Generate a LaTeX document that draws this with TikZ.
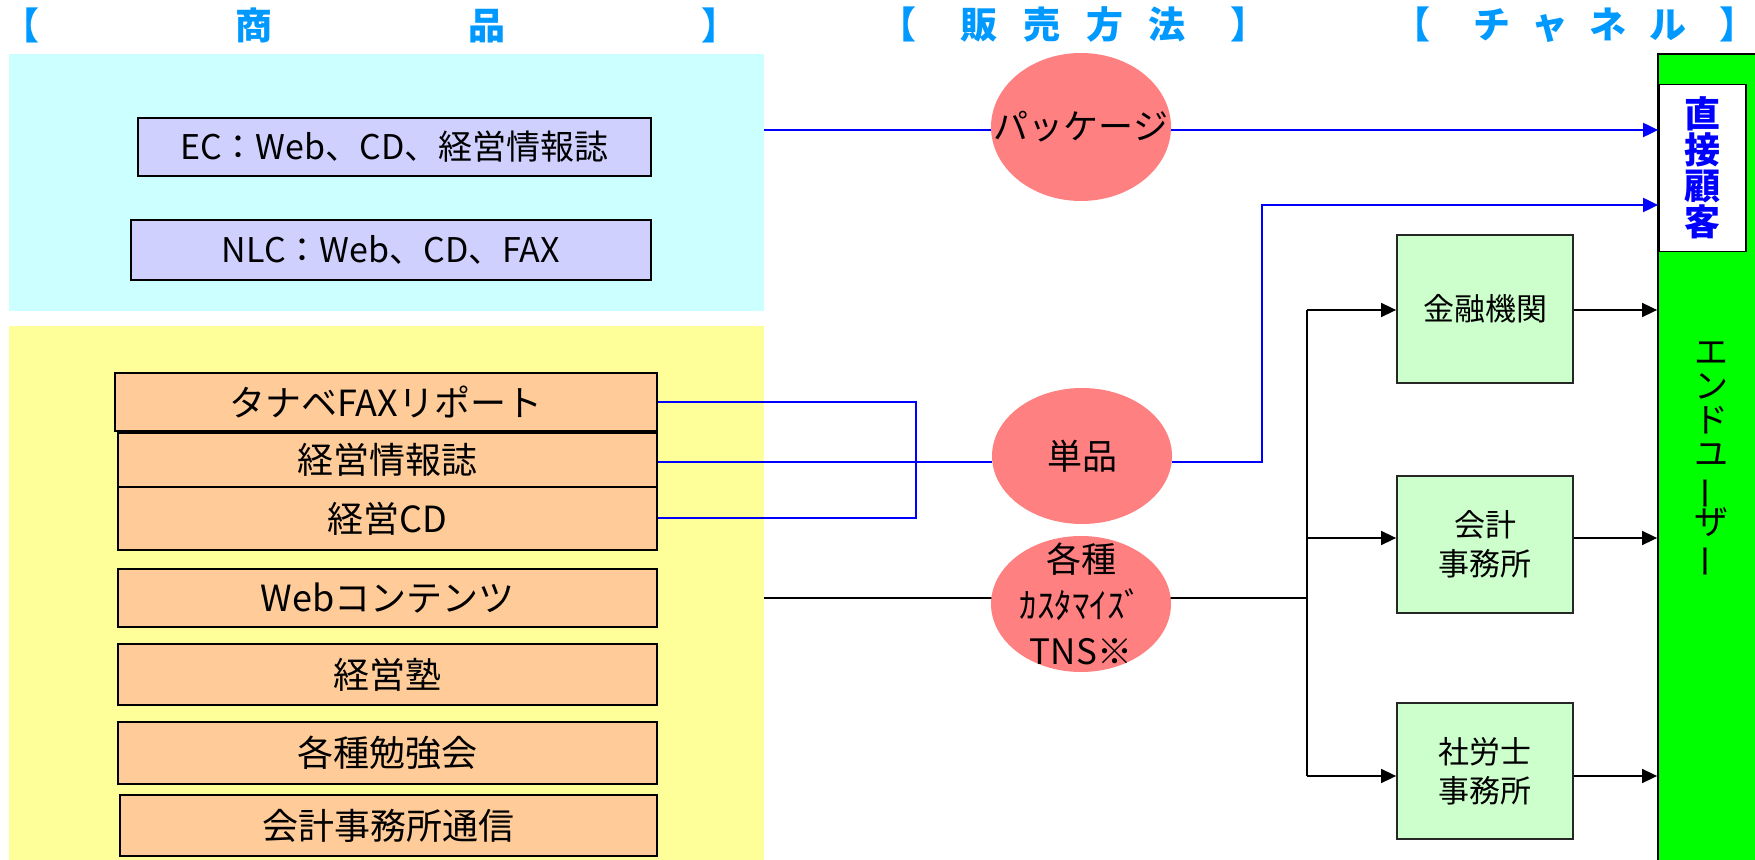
\documentclass[tikz,border=0pt]{standalone}
\usepackage{fontspec}
\setmainfont{Noto Sans CJK JP}
\usetikzlibrary{arrows.meta,shapes.geometric}
\definecolor{cyanbg}{HTML}{CCFFFF}
\definecolor{yellowbg}{HTML}{FFFF99}
\definecolor{lav}{HTML}{D0D0FF}
\definecolor{orng}{HTML}{FFCC99}
\definecolor{salmon}{HTML}{FF8080}
\definecolor{lgreen}{HTML}{CCFFCC}
\definecolor{vgreen}{HTML}{00FF00}
\definecolor{hblue}{HTML}{0099FF}
\definecolor{pblue}{HTML}{0000FF}
\newcommand\mytightlines{\lineskiplimit=-20pt\relax}
\pgfdeclarelayer{bg}
\pgfdeclarelayer{lines}
\pgfsetlayers{bg,lines,main}
\tikzset{
  area/.style={draw=none, inner sep=0pt},
  pbox/.style={draw=black, line width=0.9pt, fill=lav, inner sep=0pt, font=\fontsize{17}{20}\selectfont},
  obox/.style={draw=black, line width=0.9pt, fill=orng, inner sep=0pt, font=\fontsize{18}{22}\selectfont},
  gbox/.style={draw=black!85, line width=0.9pt, fill=lgreen, inner sep=0pt, align=center, font=\fontsize{15.5}{19.5}\selectfont},
  oval/.style={ellipse, fill=salmon, inner sep=0pt},
  ovaltext/.style={align=center, inner sep=0pt, font=\fontsize{17.5}{23}\selectfont},
  hdr/.style={anchor=west, inner sep=0pt, text=hblue, font=\fontsize{18.5}{20}\selectfont\bfseries},
  bl/.style={draw=pblue, line width=1pt},
  kl/.style={draw=black, line width=0.8pt},
  arr/.style={-{Triangle[length=7.5pt,width=7pt]}}
}
\begin{document}
\begin{tikzpicture}[x=0.5pt,y=-0.5pt]
\useasboundingbox (0,0) rectangle (1755,860);
% headers
\node[hdr] (h1) at (2,25) {\makebox[368pt]{【\hfill 商\hfill 品\hfill 】}};
\node[hdr] (h2) at (879.5,25) {【\hspace{22pt}販\hspace{12.8pt}売\hspace{12.8pt}方\hspace{12.8pt}法\hspace{22.5pt}】};
\node[hdr] (h3) at (1393.5,25) {【\hspace{21.5pt}チ\hspace{10.5pt}ャ\hspace{10.5pt}ネ\hspace{11.5pt}ル\hspace{16.5pt}】};
% backgrounds
\begin{pgfonlayer}{bg}
\node[area, fill=cyanbg, minimum width=377.5pt, minimum height=128.5pt] (cyan) at (386.5,182.5) {};
\node[area, fill=yellowbg, minimum width=377.5pt, minimum height=268pt] (yellow) at (386.5,594) {};
\node[draw=black, line width=0.9pt, fill=vgreen, inner sep=0pt, minimum width=54pt, minimum height=408pt] (col) at (1712,462) {};
\end{pgfonlayer}
% product boxes
\node[pbox, minimum width=256.5pt, minimum height=29pt] (ec) at (394.5,147) {EC：Web、CD、経営情報誌};
\node[pbox, minimum width=260pt, minimum height=30pt] (nlc) at (391,250) {NLC：Web、CD、FAX};
\node[obox, minimum width=271pt, minimum height=29pt] (tanabe) at (386,402) {タナベFAXリポート};
\node[obox, minimum width=269.5pt, minimum height=27pt] (joho) at (387.5,460) {経営情報誌};
\node[obox, minimum width=269.5pt, minimum height=31.5pt] (cd) at (387.5,518.5) {経営CD};
\node[obox, minimum width=269.5pt, minimum height=29pt] (web) at (387.5,598) {Webコンテンツ};
\node[obox, minimum width=269.5pt, minimum height=30.5pt] (juku) at (387.5,674.5) {経営塾};
\node[obox, minimum width=269.5pt, minimum height=31pt] (benkyo) at (387.5,753) {各種勉強会};
\node[obox, minimum width=268.5pt, minimum height=30.5pt] (tsushin) at (388.5,825.5) {会計事務所通信};
% sales method ellipses
\node[oval, minimum width=90pt, minimum height=74pt,
  label={[ovaltext]center:パッケージ}] (pkg) at (1081,127) {};
\node[oval, minimum width=90pt, minimum height=68pt,
  label={[ovaltext]center:単品}] (tanpin) at (1082,456) {};
\node[oval, minimum width=90pt, minimum height=68pt,
  label={[ovaltext]center:各種\\ｶｽﾀﾏｲｽﾞ\\TNS※}] (kakushu) at (1081,604) {};
% channel boxes
\node[gbox, minimum width=88pt, minimum height=74pt] (kinyu) at (1485,309) {金融機関};
\node[gbox, minimum width=88pt, minimum height=68.5pt] (kaikei) at (1485,544.5) {会計\\事務所};
\node[gbox, minimum width=88pt, minimum height=68pt] (sharo) at (1485,771) {社労士\\事務所};
\node[draw=black, line width=0.9pt, fill=white, inner sep=0pt, minimum width=43.5pt, minimum height=83.5pt,
  text=pblue, align=center, font={\fontsize{18}{18}\selectfont\bfseries\mytightlines}] (direct) at (1702.5,168) {直\\接\\顧\\客};
\node[inner sep=0pt, align=center, font={\fontsize{17}{17}\selectfont\mytightlines}] (eu) at (1711,460)
  {エ\\ン\\ド\\ユ\\\rotatebox[origin=c]{90}{ー}\\ザ\\\rotatebox[origin=c]{90}{ー}};
% junction coordinates
\coordinate (jx) at (916,462);
\coordinate (b2) at (1262,205);
\coordinate (tm) at (1307,598);
\coordinate (t1) at (1307,310);
\coordinate (t2) at (1307,538);
\coordinate (t3) at (1307,776);
% connectors
\begin{pgfonlayer}{lines}
\draw[bl, arr] (cyan.east |- 0,130) -- (direct.west |- 0,130);
\draw[bl] (tanabe.east) -| (jx) |- (cd.east);
\draw[bl] (joho.east |- jx) -- (tanpin.west |- jx);
\draw[bl, arr] (tanpin.east |- jx) -| (b2) -- (direct.west |- b2);
\draw[kl] (yellow.east |- tm) -- (tm);
\draw[kl] (t1) -- (t3);
\draw[kl, arr] (t1) -- (kinyu.west |- t1);
\draw[kl, arr] (t2) -- (kaikei.west |- t2);
\draw[kl, arr] (t3) -- (sharo.west |- t3);
\draw[kl, arr] (kinyu.east |- t1) -- (col.west |- t1);
\draw[kl, arr] (kaikei.east |- t2) -- (col.west |- t2);
\draw[kl, arr] (sharo.east |- t3) -- (col.west |- t3);
\end{pgfonlayer}
\end{tikzpicture}
\end{document}
